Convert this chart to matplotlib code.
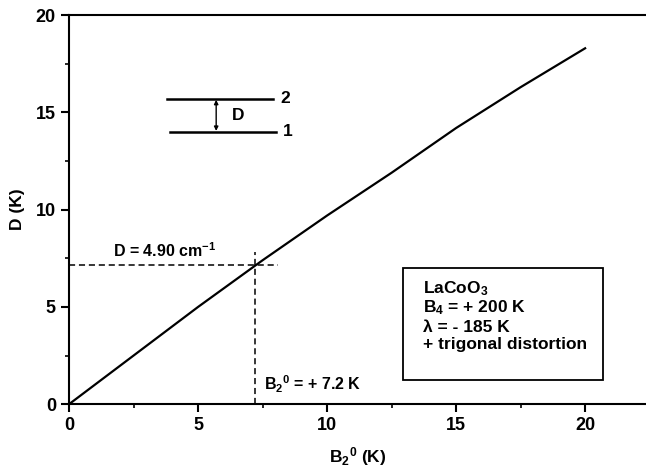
import matplotlib
matplotlib.use("Agg")
import matplotlib.pyplot as plt
from matplotlib.ticker import MultipleLocator
from matplotlib.patches import Rectangle

plt.rcParams['font.family'] = ['Liberation Sans', 'DejaVu Sans']
plt.rcParams['font.weight'] = 'bold'
plt.rcParams['mathtext.fontset'] = 'custom'
plt.rcParams['mathtext.rm'] = 'Liberation Sans:bold'
plt.rcParams['mathtext.it'] = 'Liberation Sans:bold'
plt.rcParams['mathtext.bf'] = 'Liberation Sans:bold'

# data
b20 = [0, 2.5, 5, 7.5, 10, 12.5, 15, 17.5, 20]
d_vals = [0, 2.5, 5.0, 7.4, 9.7, 11.9, 14.2, 16.3, 18.3]
b_mark = 7.2
d_mark = 7.15
level_upper = 15.7
level_lower = 14.0
box_lines = ['LaCoO$_3$', 'B$_4$ = + 200 K', '\u03bb = - 185 K', '+ trigonal distortion']

fig = plt.figure(figsize=(6.46, 4.76), dpi=100)
ax = fig.add_axes([0.107, 0.151, 0.893, 0.817])
ax.plot(b20, d_vals, color='black', lw=1.6)

ax.plot([0, 8.1], [d_mark, d_mark], color='black', lw=1.1, ls=(0, (4, 2.5)))
ax.plot([b_mark, b_mark], [0, 7.8], color='black', lw=1.1, ls=(0, (4, 2.5)))

ax.set_xlim(0, 22.36)
ax.set_ylim(0, 20)
ax.xaxis.set_major_locator(MultipleLocator(5))
ax.xaxis.set_minor_locator(MultipleLocator(2.5))
ax.yaxis.set_major_locator(MultipleLocator(5))
ax.yaxis.set_minor_locator(MultipleLocator(2.5))
ax.tick_params(which='major', direction='out', length=6, width=1.5, labelsize=13)
ax.tick_params(which='minor', direction='out', length=3, width=1.2)
for s in ['left', 'bottom', 'top']:
    ax.spines[s].set_linewidth(1.5)
ax.spines['right'].set_visible(False)
for lab in ax.get_xticklabels() + ax.get_yticklabels():
    lab.set_fontweight('bold')

ax.set_xlabel(r'B$_2$$^0$ (K)', fontsize=12.5, fontweight='bold', labelpad=8)
ax.set_ylabel('D (K)', fontsize=12.5, fontweight='bold', labelpad=8)

# level diagram
ax.plot([3.8, 7.9], [level_upper, level_upper], color='black', lw=1.8)
ax.plot([3.9, 8.0], [level_lower, level_lower], color='black', lw=1.8)
ax.annotate('', xy=(5.7, level_upper - 0.05), xytext=(5.7, level_lower + 0.05),
            arrowprops=dict(arrowstyle='<|-|>', color='black', lw=1.0,
                            mutation_scale=6, shrinkA=0, shrinkB=0))
ax.text(6.3, (level_upper + level_lower) / 2, 'D', fontsize=12.5, fontweight='bold', va='center')
ax.text(8.2, level_upper, '2', fontsize=12.5, fontweight='bold', va='center')
ax.text(8.3, level_lower, '1', fontsize=12.5, fontweight='bold', va='center')

ax.text(1.7, 7.9, r'D = 4.90 cm$^{-1}$', fontsize=11.5, fontweight='bold', va='center')
ax.text(7.55, 1.0, r'B$_2$$^0$ = + 7.2 K', fontsize=11.5, fontweight='bold', va='center')

ax.add_patch(Rectangle((12.95, 1.24), 7.75, 5.76, facecolor='white',
                       edgecolor='black', lw=1.3, zorder=3))
for yv, s in zip([5.96, 4.94, 3.96, 3.08], box_lines):
    ax.text(13.7, yv, s, fontsize=12.5, fontweight='bold', va='center', ha='left', zorder=4)

fig.savefig('out.png', dpi=100)
